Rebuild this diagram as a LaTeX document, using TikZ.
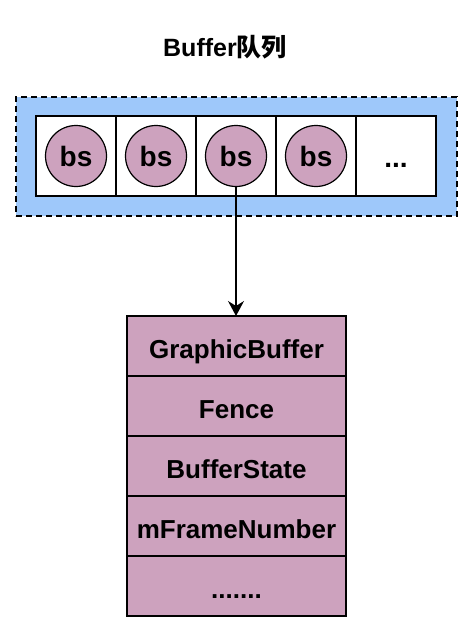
\documentclass[tikz,border=0pt]{standalone}
\usepackage{fontspec}
\setmainfont{Liberation Sans}
\newfontfamily\cjk{Noto Sans CJK SC}
\usetikzlibrary{positioning,arrows.meta}
\definecolor{QueueBlue}{RGB}{158,200,250}
\definecolor{BsPink}{RGB}{205,162,190}

\begin{document}
\begin{tikzpicture}[x=1pt,y=1pt,
    queuebox/.style={rectangle,draw=black,dashed,dash pattern=on 6pt off 4pt,line width=1.6pt,
                fill=QueueBlue,minimum width=441pt,minimum height=119pt},
    cell/.style={rectangle,draw=black,line width=1.6pt,fill=white,outer sep=0pt,
                minimum width=80pt,minimum height=80pt,inner sep=0pt,
                text height=24pt,text depth=2pt,
                font=\fontsize{28}{32}\selectfont\bfseries},
    bsnode/.style={circle,draw=black,line width=1.2pt,fill=BsPink,minimum size=61pt,inner sep=0pt,
                font=\fontsize{28}{32}\selectfont\bfseries},
    row/.style={rectangle,draw=black,line width=1.6pt,fill=BsPink,outer sep=0pt,
                minimum width=219pt,minimum height=60pt,inner sep=2pt,
                text height=26pt,text depth=2pt,
                font=\fontsize{26}{30}\selectfont\bfseries},
    arrow/.style={-{Stealth[length=15pt,width=16pt,inset=5pt]},line width=1.3pt,black},
    title/.style={font=\fontsize{25}{30}\selectfont\bfseries}
]
\useasboundingbox (0,0) rectangle (474,-634);

% Title
\node[title] (title) at (225,-47) {Buffer{\cjk 队列}};

% Queue: dashed frame with five cells
\node[queuebox] (queue) at (236.5,-156.5) {};
\node[cell] (cell1) at (76,-156) {};
\node[cell,right=0pt of cell1] (cell2) {};
\node[cell,right=0pt of cell2] (cell3) {};
\node[cell,right=0pt of cell3] (cell4) {};
\node[cell,right=0pt of cell4] (cell5) {...};

% Buffer slots
\node[bsnode] (bs1) at (cell1) {bs};
\node[bsnode] (bs2) at (cell2) {bs};
\node[bsnode] (bs3) at (cell3) {bs};
\node[bsnode] (bs4) at (cell4) {bs};

% BufferSlot fields
\node[row] (row1) at (236.5,-346) {GraphicBuffer};
\node[row,below=0pt of row1] (row2) {Fence};
\node[row,below=0pt of row2] (row3) {BufferState};
\node[row,below=0pt of row3] (row4) {mFrameNumber};
\node[row,below=0pt of row4] (row5) {.......};

% Arrow from slot to its fields
\draw[arrow] (bs3.south) -- (bs3.south |- row1.north);

\end{tikzpicture}
\end{document}
